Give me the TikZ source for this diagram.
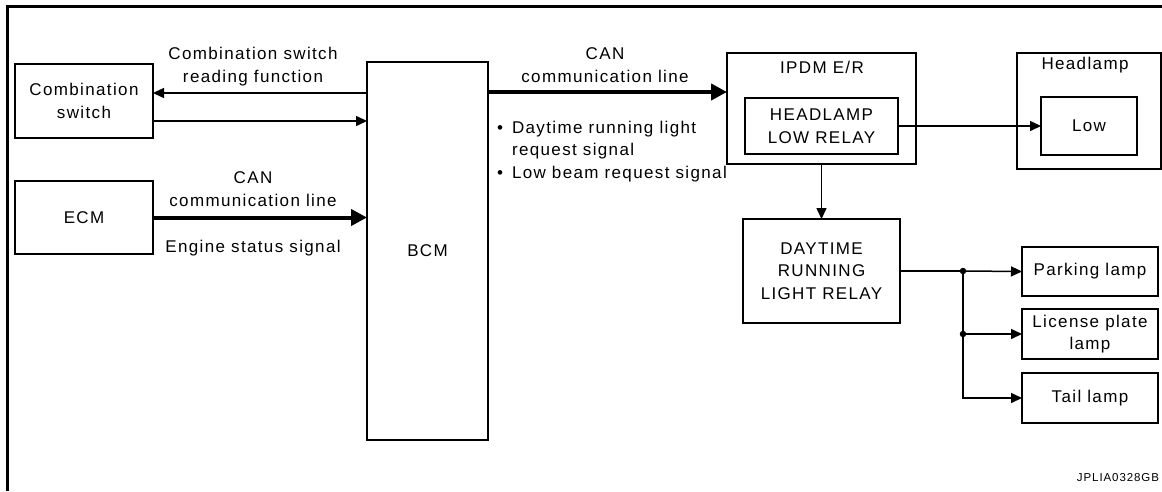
\documentclass[tikz,border=0pt]{standalone}
\usepackage{fontspec}
\setmainfont{Liberation Sans}[LetterSpace=8]
\usetikzlibrary{arrows.meta}
\begin{document}
\begin{tikzpicture}[x=1pt,y=-1pt,
  every node/.style={font=\fontsize{17}{22.5}\selectfont,inner sep=0pt,outer sep=0pt,align=center},
  box/.style={draw,line width=1.5pt},
  thin/.style={line width=1.5pt},
  arr/.style={thin,-{Triangle[length=11pt,width=10pt]}},
  busarr/.style={line width=4pt,-{Triangle[length=16pt,width=16pt]}},
  dot/.style={fill,circle,minimum size=6.5pt,inner sep=0pt}]
\useasboundingbox (0,0) rectangle (1162,491);

% outer frame
\draw[line width=3pt] (7,491) -- (7,6) -- (1162,6);

% blocks
\node[box,minimum width=138pt,minimum height=74pt] (cs) at (84,101) {Combination\\switch};
\node[box,minimum width=138pt,minimum height=73pt] (ecm) at (84,217.5) {ECM};
\node[box,minimum width=121pt,minimum height=378pt] (bcm) at (427.5,251) {BCM};
\node[box,minimum width=189pt,minimum height=111pt] (ipdm) at (821.5,108.5) {};
\node (ipdmlbl) at (822,67) {IPDM E/R};
\node[box,minimum width=153pt,minimum height=56pt] (hlr) at (821.5,126) {HEADLAMP\\LOW RELAY};
\node[box,minimum width=144pt,minimum height=116pt] (head) at (1089,111) {};
\node (headlbl) at (1085,65) {Headlamp};
\node[box,minimum width=96pt,minimum height=58pt] (low) at (1089,126) {Low};
\node[box,minimum width=157pt,minimum height=104pt] (drl) at (821.5,271) {DAYTIME\\RUNNING\\LIGHT RELAY};
\node[box,minimum width=136pt,minimum height=49pt] (park) at (1090,271.5) {Parking lamp};
\node[box,minimum width=136pt,minimum height=50pt] (lic) at (1090,334) {License plate\\lamp};
\node[box,minimum width=136pt,minimum height=50pt] (tail) at (1090,398) {Tail lamp};

% labels
\node (lblread) at (253,66.5) {Combination switch\\reading function};
\node (lblcan1) at (253,189) {CAN\\communication line};
\node (lblengine) at (253,248) {Engine status signal};
\node (lblcan2) at (605,65) {CAN\\communication line};
\node[anchor=north west,align=left] (lblreq) at (497,121)
  {\makebox[15pt][l]{•}Daytime running light\\
   \makebox[15pt][l]{}request signal\\
   \makebox[15pt][l]{•}Low beam request signal};
\node[anchor=east,font=\fontsize{11.5}{13}\selectfont] (code) at (1159,478) {JPLIA0328GB};

% connection points
\path ([yshift=8pt]cs.east) coordinate (csA)
      ([yshift=-20pt]cs.east) coordinate (csB)
      ([yshift=16.5pt]ipdm.west) coordinate (ipdmA);
\coordinate (j1) at (963,271);
\coordinate (j2) at (963,334);

% connectors
\draw[arr] (bcm.west |- csA) -- (csA);
\draw[arr] (csB) -- (bcm.west |- csB);
\draw[busarr] (ecm.east) -- (bcm.west |- ecm.east);
\draw[busarr] (bcm.east |- ipdmA) -- (ipdmA);
\draw[arr] (hlr.east) -- (low.west);
\draw[arr] (ipdm.south) -- (drl.north);
\draw[thin] (drl.east) -- (j1);
\draw[arr] (j1) -- (park.west);
\draw[thin] (j1) -- (j2);
\draw[arr] (j2) -- (lic.west);
\draw[arr] (j2) |- (tail.west);
\node[dot] (d1) at (j1) {};
\node[dot] (d2) at (j2) {};
\end{tikzpicture}
\end{document}
